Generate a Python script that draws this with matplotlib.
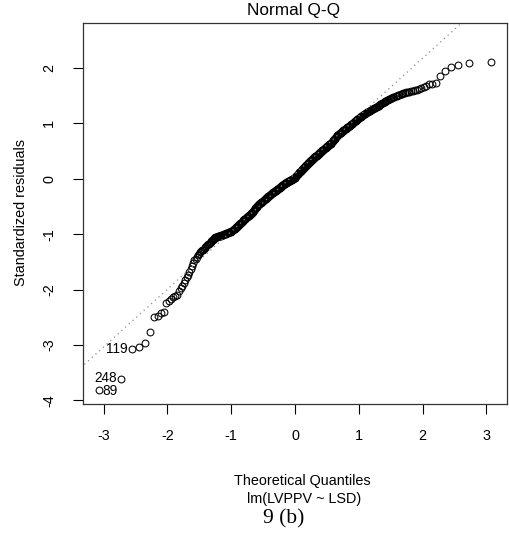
import numpy as np
import matplotlib
matplotlib.use("Agg")
import matplotlib.pyplot as plt
from statistics import NormalDist

# Sorted standardized residuals, n = 480
std_resid = [
    -3.81, -3.62, -3.07, -3.03, -2.96, -2.77, -2.50, -2.47, -2.42, -2.40, -2.24, -2.20,
    -2.17, -2.14, -2.12, -2.10, -2.02,
    -1.98, -1.93, -1.88, -1.83,
    -1.78, -1.73, -1.68, -1.63,
    -1.57, -1.52, -1.47,
    -1.44, -1.41, -1.38, -1.35,
    -1.33, -1.31, -1.29, -1.28, -1.26, -1.25, -1.23,
    -1.215, -1.20, -1.185, -1.17, -1.155, -1.14, -1.125, -1.11, -1.10, -1.085, -1.07, -1.06,
    -1.055, -1.05, -1.046, -1.042, -1.038, -1.033, -1.029, -1.025, -1.02, -1.016, -1.012,
    -1.008, -1.003, -0.999, -0.995, -0.99,
    -0.986, -0.982, -0.978, -0.974, -0.970, -0.966, -0.962, -0.958, -0.954, -0.95,
    -0.942, -0.933, -0.925, -0.916, -0.908, -0.899, -0.891, -0.882, -0.874, -0.865, -0.857,
    -0.848, -0.84,
    -0.832, -0.824, -0.816, -0.808, -0.80, -0.792, -0.784, -0.776, -0.768, -0.760, -0.752,
    -0.744, -0.736, -0.728, -0.72,
    -0.713, -0.707, -0.70, -0.693, -0.687, -0.68, -0.673, -0.667, -0.66, -0.653, -0.647,
    -0.64, -0.633, -0.627, -0.62,
    -0.611, -0.601, -0.592, -0.582, -0.573, -0.564, -0.554, -0.545, -0.536, -0.526, -0.517,
    -0.507, -0.498, -0.489, -0.479, -0.47,
    -0.464, -0.459, -0.453, -0.447, -0.441, -0.436, -0.430, -0.424, -0.419, -0.413, -0.407,
    -0.401, -0.396, -0.390, -0.384, -0.379, -0.373, -0.367, -0.361, -0.356, -0.350, -0.344,
    -0.339, -0.333, -0.327, -0.321, -0.316, -0.310, -0.304, -0.299, -0.293, -0.287, -0.281,
    -0.276, -0.27,
    -0.265, -0.261, -0.256, -0.252, -0.247, -0.242, -0.238, -0.233, -0.228, -0.224, -0.219,
    -0.215, -0.210, -0.205, -0.201, -0.196, -0.191, -0.187, -0.182, -0.178, -0.173, -0.168,
    -0.164, -0.159, -0.155, -0.150, -0.145, -0.141, -0.136, -0.131, -0.127, -0.122, -0.118,
    -0.113, -0.108, -0.104, -0.099, -0.095, -0.09,
    -0.086, -0.083, -0.079, -0.075, -0.072, -0.068, -0.064, -0.061, -0.057, -0.053, -0.050,
    -0.046, -0.042, -0.039, -0.035, -0.031, -0.028, -0.024, -0.020, -0.017, -0.013, -0.009,
    -0.006, -0.002, 0.002, 0.005, 0.009, 0.013, 0.016, 0.02,
    0.027, 0.033, 0.04, 0.047, 0.053, 0.06, 0.067, 0.073, 0.08, 0.087, 0.093, 0.10, 0.107,
    0.113, 0.12, 0.127, 0.133, 0.14, 0.147, 0.153, 0.16, 0.167, 0.173, 0.18, 0.187, 0.193,
    0.20, 0.207, 0.213, 0.22, 0.227, 0.233, 0.24, 0.247, 0.253, 0.26, 0.267, 0.273, 0.28,
    0.286, 0.291, 0.297, 0.302, 0.308, 0.313, 0.319, 0.324, 0.33, 0.335, 0.341, 0.346, 0.352,
    0.357, 0.363, 0.368, 0.374, 0.379, 0.385, 0.390, 0.396, 0.401, 0.407, 0.412, 0.418, 0.423,
    0.429, 0.434, 0.44,
    0.446, 0.451, 0.457, 0.463, 0.469, 0.474, 0.480, 0.486, 0.491, 0.497, 0.503, 0.509, 0.514,
    0.520, 0.526, 0.531, 0.537, 0.543, 0.549, 0.554, 0.560, 0.566, 0.571, 0.577, 0.583, 0.589,
    0.594, 0.600, 0.606, 0.611, 0.617, 0.623, 0.629, 0.634, 0.64,
    0.649, 0.658, 0.666, 0.675, 0.684, 0.693, 0.702, 0.711, 0.719, 0.728, 0.737, 0.746, 0.755,
    0.764, 0.772, 0.781, 0.79,
    0.796, 0.802, 0.809, 0.815, 0.821, 0.827, 0.833, 0.84, 0.846, 0.852, 0.858, 0.864, 0.871,
    0.877, 0.883, 0.889, 0.895, 0.902, 0.908, 0.914, 0.92, 0.926, 0.933, 0.939, 0.945, 0.951,
    0.957, 0.964, 0.97,
    0.978, 0.986, 0.994, 1.002, 1.010, 1.018, 1.025, 1.033, 1.041, 1.049, 1.057, 1.065, 1.073,
    1.081, 1.089, 1.097, 1.105, 1.113, 1.120, 1.128, 1.136, 1.144, 1.152, 1.16,
    1.167, 1.174, 1.181, 1.188, 1.195, 1.202, 1.209, 1.216, 1.223, 1.23, 1.237, 1.244, 1.251,
    1.258, 1.265, 1.272, 1.279, 1.286, 1.293, 1.30,
    1.31, 1.32, 1.33, 1.34, 1.35, 1.36, 1.37, 1.38,
    1.389, 1.397, 1.406, 1.414, 1.423, 1.431, 1.44,
    1.449, 1.458, 1.467, 1.476, 1.485, 1.495, 1.504, 1.513, 1.522, 1.531, 1.54,
    1.548, 1.556, 1.564, 1.572, 1.58, 1.588, 1.595, 1.60,
    1.61, 1.63, 1.66, 1.68, 1.70, 1.71, 1.72, 1.85, 1.95, 2.01, 2.05, 2.08, 2.11,
]

# Labelled observations (three largest |residual|), by rank in sorted order
label_ids = ["89", "248", "119"]
label_ranks = [0, 1, 2]
label_side = ["right", "left", "left"]

x_ticks = [-3, -2, -1, 0, 1, 2, 3]
y_ticks = [-4, -3, -2, -1, 0, 1, 2]

title = "Normal Q-Q"
xlab = "Theoretical Quantiles"
ylab = "Standardized residuals"
sublab = "lm(LVPPV ~ LSD)"
caption = "9 (b)"

# ---------------------------------------------------------------
y = np.array(std_resid)
n = len(y)
nd = NormalDist()
pp = (np.arange(1, n + 1) - 0.5) / n
x = np.array([nd.inv_cdf(p) for p in pp])

plt.rcParams['font.family'] = ['Liberation Sans', 'DejaVu Sans']

W, H = 510, 533
fig = plt.figure(figsize=(W / 100, H / 100), dpi=100)
ax = fig.add_axes([83 / W, (H - 404) / H, 424 / W, 381 / H])

ax.plot(x, y, linestyle='none', marker='o', markersize=4.9,
        markerfacecolor='none', markeredgecolor='black', markeredgewidth=0.75)

# qqline through quartiles
y1, y2 = np.quantile(y, [0.25, 0.75])
x1, x2 = nd.inv_cdf(0.25), nd.inv_cdf(0.75)
slope = (y2 - y1) / (x2 - x1)
inter = y1 - slope * x1
xl = np.array([-4, 4])
ax.plot(xl, inter + slope * xl, linestyle=(0, (1, 3)), color='#8c8c8c', linewidth=0.9)

# limits like R plot.lm
xr = x.max() - x.min()
ax.set_xlim(x.min() - 0.04 * xr, x.max() + 0.04 * xr)
ylo, yhi = y.min(), y.max()
yhi = yhi + (yhi - ylo) * 0.075
yr = yhi - ylo
ax.set_ylim(ylo - 0.04 * yr, yhi + 0.04 * yr)

nudges = [-1.5, 1.5, 0]
for lab, r, side, dy in zip(label_ids, label_ranks, label_side, nudges):
    if side == "right":
        ax.annotate(lab, (x[r], y[r]), xytext=(4, dy), textcoords='offset pixels',
                    ha='left', va='center', fontsize=9.8)
    else:
        ax.annotate(lab, (x[r], y[r]), xytext=(-4, dy), textcoords='offset pixels',
                    ha='right', va='center', fontsize=9.8)

ax.set_xticks(x_ticks)
ax.set_yticks(y_ticks)
ax.set_xticklabels([str(t) for t in x_ticks])
ax.set_yticklabels([str(t) for t in y_ticks], rotation=90, va='center')
ax.tick_params(axis='both', direction='out', length=7.2, width=0.8, labelsize=10.4)
ax.tick_params(axis='x', pad=11)
ax.tick_params(axis='y', pad=12)
for s in ax.spines.values():
    s.set_linewidth(0.9)
    s.set_color('#333333')

fig.text(294 / W, 1 - 11 / H, title, ha='center', va='center', fontsize=12.4)
fig.text(21 / W, 1 - 213 / H, ylab, rotation=90,
         ha='center', va='center', fontsize=10.4)
fig.text(302 / W, 1 - 481 / H, xlab, ha='center', va='center', fontsize=10.4)
fig.text(304 / W, 1 - 499 / H, sublab, ha='center', va='center', fontsize=10.4)
fig.text(284 / W, 1 - 519 / H, caption, ha='center', va='center', fontsize=15.5,
         family=['Liberation Serif', 'DejaVu Serif'])

fig.savefig("out.png", dpi=100)
